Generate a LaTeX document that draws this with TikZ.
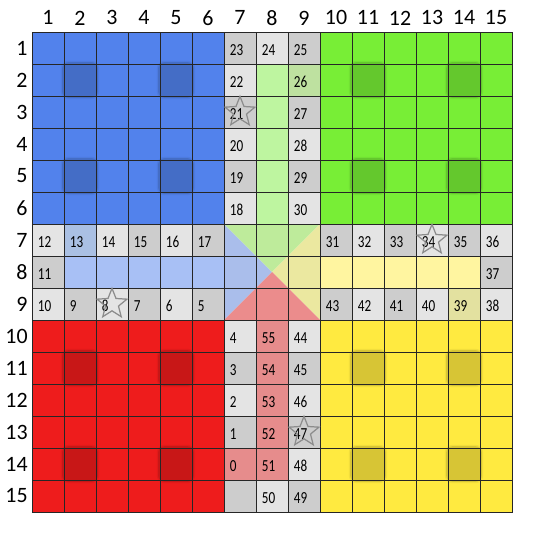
\documentclass[tikz,border=0pt]{standalone}
\usepackage{fontspec}
\setmainfont{Carlito}
\newfontfamily\cellfont[FakeStretch=0.78]{Carlito}
\usetikzlibrary{shapes.geometric}

\definecolor{qblue}{RGB}{82,130,236}
\definecolor{qgreen}{RGB}{120,238,54}
\definecolor{qred}{RGB}{238,28,28}
\definecolor{qyellow}{RGB}{255,234,64}
\definecolor{ltcell}{RGB}{228,228,228}
\definecolor{dkcell}{RGB}{205,205,205}
\definecolor{pblue}{RGB}{168,192,245}
\definecolor{pgreen}{RGB}{190,245,160}
\definecolor{pyellow}{RGB}{255,245,160}
\definecolor{pred}{RGB}{230,140,140}
\definecolor{sgreen}{RGB}{190,225,160}
\definecolor{sblue}{RGB}{170,192,227}
\definecolor{syellow}{RGB}{227,225,160}
\definecolor{tblue}{RGB}{170,190,235}
\definecolor{tgreen}{RGB}{190,235,155}
\definecolor{tyellow}{RGB}{235,232,160}
\definecolor{tred}{RGB}{235,140,140}

\begin{document}
\begin{tikzpicture}[
  x=1cm, y=-1cm,
  gridline/.style={draw=black!85, line width=0.8pt},
  num/.style={anchor=west, inner sep=0pt, font=\cellfont\fontsize{15}{17}\selectfont},
  colhead/.style={inner sep=0pt, font=\fontsize{19.5}{22}\selectfont},
  rowhead/.style={anchor=east, inner sep=0pt, font=\fontsize{19.5}{22}\selectfont},
  safe/.style={star, star points=5, star point ratio=2.3, minimum size=0.98cm,
    inner sep=0pt, draw=black!45, line width=1.1pt}
]
\useasboundingbox (-1,-1) rectangle (16,16);

% quadrants
\fill[qblue] (0,0) rectangle (6,6);
\fill[qgreen] (9,0) rectangle (15,6);
\fill[qred] (0,9) rectangle (6,15);
\fill[qyellow] (9,9) rectangle (15,15);

% home squares
\foreach \dx/\dy in {0/0,9/0,0/9,9/9}
  \foreach \c/\r in {2/2,5/2,2/5,5/5} {
    \fill[black, opacity=0.05, rounded corners=7pt]
      (\c+\dx-1.1,\r+\dy-1.1) rectangle (\c+\dx+0.1,\r+\dy+0.1);
    \fill[black, opacity=0.11, rounded corners=6pt]
      (\c+\dx-1.06,\r+\dy-1.06) rectangle (\c+\dx+0.06,\r+\dy+0.06);
  }

% track cells
\foreach \r in {1,...,6,10,11,12,13,14,15}
  \foreach \c in {7,8,9} {
    \pgfmathtruncatemacro\s{\c+\r}
    \ifodd\s \def\cc{ltcell}\else\def\cc{dkcell}\fi
    \fill[\cc] (\c-1,\r-1) rectangle (\c,\r);
  }
\foreach \c in {1,...,6,10,11,12,13,14,15}
  \foreach \r in {7,8,9} {
    \pgfmathtruncatemacro\s{\c+\r}
    \ifodd\s \def\cc{dkcell}\else\def\cc{ltcell}\fi
    \fill[\cc] (\c-1,\r-1) rectangle (\c,\r);
  }

% home columns
\fill[pgreen] (7,1) rectangle (8,6);
\fill[pblue] (1,7) rectangle (6,8);
\fill[pyellow] (9,7) rectangle (14,8);
\fill[pred] (7,9) rectangle (8,14);
\fill[pred] (6,13) rectangle (7,14);
\fill[sgreen] (8,1) rectangle (9,2);
\fill[sblue] (1,6) rectangle (2,7);
\fill[syellow] (13,8) rectangle (14,9);

% centre
\fill[tblue] (6,6) -- (6,9) -- (7.5,7.5) -- cycle;
\fill[tgreen] (6,6) -- (9,6) -- (7.5,7.5) -- cycle;
\fill[tyellow] (9,6) -- (9,9) -- (7.5,7.5) -- cycle;
\fill[tred] (6,9) -- (9,9) -- (7.5,7.5) -- cycle;

\draw[gridline] (0,0) grid (15,15);
\draw[gridline] (0,0) rectangle (15,15);

% headers
\foreach \i in {1,...,15} {
  \node[colhead] (c\i) at (\i-0.5,-0.44) {\i};
  \node[rowhead] (r\i) at (-0.13,\i-0.5) {\i};
}

% numbers
\foreach \c/\r/\n in {
  7/1/23, 7/2/22, 7/3/21, 7/4/20, 7/5/19, 7/6/18,
  8/1/24, 9/1/25, 9/2/26, 9/3/27, 9/4/28, 9/5/29, 9/6/30,
  1/7/12, 2/7/13, 3/7/14, 4/7/15, 5/7/16, 6/7/17, 1/8/11,
  1/9/10, 2/9/9, 3/9/8, 4/9/7, 5/9/6, 6/9/5,
  10/7/31, 11/7/32, 12/7/33, 13/7/34, 14/7/35, 15/7/36, 15/8/37,
  10/9/43, 11/9/42, 12/9/41, 13/9/40, 14/9/39, 15/9/38,
  7/10/4, 7/11/3, 7/12/2, 7/13/1, 7/14/0,
  8/10/55, 8/11/54, 8/12/53, 8/13/52, 8/14/51, 8/15/50,
  9/10/44, 9/11/45, 9/12/46, 9/13/47, 9/14/48, 9/15/49}
  \node[num] (n\n) at (\c-0.82,\r-0.44) {\n};

% safe stars
\node[safe] (s21) at (6.5,2.5) {};
\node[safe] (s8) at (2.5,8.5) {};
\node[safe] (s34) at (12.5,6.5) {};
\node[safe] (s47) at (8.5,12.5) {};
\end{tikzpicture}
\end{document}
